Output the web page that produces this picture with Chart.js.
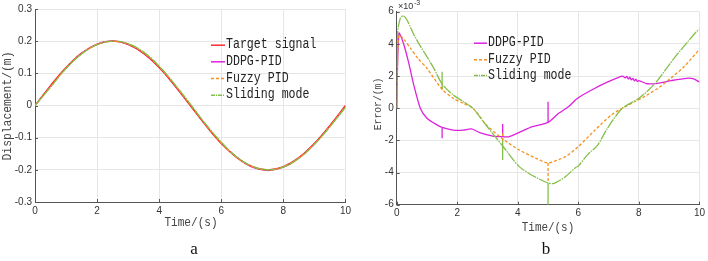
<!DOCTYPE html>
<html>
<head>
<meta charset="utf-8">
<script src="https://cdn.jsdelivr.net/npm/chart.js@4"></script>
<style>
  body { margin: 0; background: #fff; width: 708px; height: 261px; position: relative; overflow: hidden; }
  canvas { position: absolute; top: 0; }
  #chartA { left: 0; }
  #chartB { left: 354px; }
</style>
</head>
<body>
<canvas id="chartA" width="354" height="261"></canvas>
<canvas id="chartB" width="354" height="261"></canvas>
<script>
// ---- panel a: displacement ----
const timeA = [0, 0.5, 1, 1.5, 2, 2.5, 3, 3.5, 4, 4.5, 5, 5.5, 6, 6.5, 7, 7.5, 8, 8.5, 9, 9.5, 10];
const targetDisp  = [0, 0.062, 0.118, 0.162, 0.190, 0.200, 0.190, 0.162, 0.118, 0.062, 0, -0.062, -0.118, -0.162, -0.190, -0.200, -0.190, -0.162, -0.118, -0.062, 0];
const ddpgDisp    = [0, 0.060, 0.117, 0.163, 0.191, 0.201, 0.190, 0.162, 0.119, 0.062, 0.001, -0.061, -0.117, -0.161, -0.192, -0.202, -0.192, -0.163, -0.119, -0.063, -0.002];
const fuzzyDisp   = [0, 0.058, 0.116, 0.161, 0.190, 0.200, 0.191, 0.164, 0.121, 0.065, 0.003, -0.059, -0.116, -0.161, -0.190, -0.200, -0.191, -0.163, -0.120, -0.065, -0.004];
const slidingDisp = [0, 0.057, 0.115, 0.160, 0.189, 0.200, 0.192, 0.166, 0.122, 0.066, 0.005, -0.058, -0.114, -0.160, -0.189, -0.200, -0.191, -0.164, -0.121, -0.066, -0.006];

// ---- panel b: error (x1e-3 m) ----
const ddpgT = [0, 0.075, 0.24, 0.4, 0.565, 0.78, 1.0, 1.33, 1.5, 1.87, 2.2, 2.47, 2.74, 3.18, 3.5, 3.7, 4.05, 4.48, 5.0, 5.35, 5.68, 5.95, 6.44, 6.99, 7.45,
  7.55, 7.6, 7.65, 7.7, 7.75, 7.8, 7.85, 7.9, 7.95, 8.0, 8.27, 8.62, 9.05, 9.58, 9.81, 10];
const ddpgErr = [0, 4.66, 3.93, 2.79, 1.44, 0, -0.63, -1.04, -1.19, -1.36, -1.36, -1.29, -1.52, -1.73, -1.77, -1.78, -1.5, -1.15, -0.88, -0.32, 0.1, 0.59, 1.13, 1.65, 2.0,
  1.88, 1.98, 1.82, 1.93, 1.76, 1.86, 1.7, 1.8, 1.66, 1.72, 1.52, 1.55, 1.71, 1.86, 1.82, 1.62];
const fuzzyT = [0, 0.03, 0.08, 0.25, 0.46, 0.7, 1.0, 1.49, 1.87, 2.2, 2.52, 2.96, 3.53, 4.05, 4.59, 5.0, 5.57, 6.0, 6.55, 7.09, 7.48, 7.86, 8.18, 8.62, 9.05, 9.49, 10];
const fuzzyErr = [0, 3.0, 4.55, 4.25, 3.72, 3.1, 2.48, 1.2, 0.61, 0.3, 0, -1.04, -1.95, -2.6, -3.1, -3.4, -3.01, -2.39, -1.36, -0.42, 0.03, 0.4, 0.72, 1.23, 1.86, 2.58, 3.66];
const slidingT = [0, 0.03, 0.12, 0.22, 0.35, 0.56, 0.8, 1.0, 1.25, 1.5, 1.87, 2.2, 2.52, 2.85, 3.18, 3.5, 4.03, 4.5, 5.0, 5.2, 5.57, 5.9, 6.0, 6.3, 6.64, 6.96, 7.45, 8.0, 8.54, 9.0, 9.25, 9.6, 9.9, 10];
const slidingErr = [0, 4.7, 5.6, 5.75, 5.45, 4.6, 3.8, 3.2, 2.4, 1.5, 0.82, 0.41, 0, -0.8, -1.6, -2.35, -3.6, -4.2, -4.65, -4.67, -4.26, -3.7, -3.6, -2.9, -2.29, -1.25, 0, 0.61, 1.55, 2.7, 3.31, 4.1, 4.76, 4.9];
// vertical glitches: [time, from, to]
const ddpgSpikes = [[1.5, -1.19, -1.87], [3.5, -1.77, -0.98], [5.0, -0.88, 0.4]];
const fuzzySpikes = [[1.5, 1.15, 1.55], [3.5, -1.55, -2.1], [5.0, -3.4, -4.6]];
const slidingSpikes = [[1.5, 2.27, 1.2], [3.5, -2.0, -3.22], [5.0, -4.65, -6]];

const RED = '#ff2a2a', MAG = '#dd22dd', ORA = '#f7901e', GRN = '#84bf4a';
const MONO = '"Liberation Mono", monospace';

const xy = (ts, vs) => ts.map((t, i) => ({ x: t, y: vs[i] }));

const spikeSets = (spikes, color, dash) => spikes.map(s => ({
  label: '', data: [{ x: s[0], y: s[1] }, { x: s[0], y: s[2] }],
  borderColor: color, borderWidth: 1.3, borderDash: dash, pointRadius: 0, tension: 0
}));

// narrow monospace text (SimSun-like proportions)
const narrowText = (ctx, text, x, y, size, align) => {
  ctx.save();
  ctx.font = size + 'px ' + MONO;
  ctx.translate(x, y);
  ctx.scale(0.84, 1);
  ctx.textAlign = align;
  ctx.fillText(text, 0, 0);
  ctx.restore();
};

const textPlugin = (cfg) => ({
  id: 'texts',
  afterDraw(chart) {
    const ctx = chart.ctx;
    const xs = chart.scales.x, ys = chart.scales.y;
    ctx.save();
    // inward ticks
    ctx.strokeStyle = '#555';
    ctx.lineWidth = 1;
    ctx.beginPath();
    xs.ticks.forEach(t => {
      const px = Math.round(xs.getPixelForValue(t.value)) + 0.5;
      ctx.moveTo(px, chart.chartArea.bottom);
      ctx.lineTo(px, chart.chartArea.bottom - 3);
    });
    ys.ticks.forEach(t => {
      const py = Math.round(ys.getPixelForValue(t.value)) + 0.5;
      ctx.moveTo(chart.chartArea.left, py);
      ctx.lineTo(chart.chartArea.left + 3, py);
    });
    ctx.stroke();

    ctx.fillStyle = '#444';
    ctx.textBaseline = 'middle';
    narrowText(ctx, 'Time/(s)', cfg.xTitle[0], cfg.xTitle[1], cfg.xTitle[2], 'center');
    ctx.save();
    ctx.translate(cfg.yTitle[0], cfg.yTitle[1]);
    ctx.rotate(-Math.PI / 2);
    narrowText(ctx, cfg.yTitleText, 0, 0, cfg.yTitle[2], 'center');
    ctx.restore();

    ctx.fillStyle = '#111';
    ctx.textAlign = 'center';
    ctx.font = '17px "Liberation Serif", serif';
    ctx.fillText(cfg.sub, cfg.subPos[0], cfg.subPos[1]);

    if (cfg.exponent) {
      ctx.fillStyle = '#333';
      ctx.textAlign = 'left';
      ctx.font = '9px "Liberation Sans", sans-serif';
      ctx.fillText('\u00d710', cfg.exponent[0], cfg.exponent[1]);
      ctx.font = '7px "Liberation Sans", sans-serif';
      ctx.fillText('-3', cfg.exponent[0] + 16, cfg.exponent[1] - 4);
    }

    // legend
    cfg.legend.forEach((item, i) => {
      const y = cfg.legendY[i];
      ctx.strokeStyle = item.color;
      ctx.lineWidth = 1.5;
      ctx.setLineDash(item.dash || []);
      ctx.beginPath();
      ctx.moveTo(cfg.legendX[0], y + 0.5);
      ctx.lineTo(cfg.legendX[1], y + 0.5);
      ctx.stroke();
      ctx.setLineDash([]);
      ctx.fillStyle = '#222';
      narrowText(ctx, item.label, cfg.legendX[2], y, 13.8, 'left');
    });
    ctx.restore();
  }
});

const baseScales = (yMin, yMax, yStep, yWidth, xHeight) => ({
  x: {
    type: 'linear', min: 0, max: 10,
    ticks: { stepSize: 2, maxRotation: 0, padding: 3, color: '#333', font: { family: 'Liberation Sans', size: 10 } },
    grid: { color: '#e6e6e6', drawTicks: false },
    border: { color: '#555' },
    afterFit: s => { s.height = xHeight; }
  },
  y: {
    min: yMin, max: yMax,
    ticks: { stepSize: yStep, padding: 3, color: '#333', font: { family: 'Liberation Sans', size: 10 },
      callback: v => String(+v.toFixed(1)) },
    grid: { color: '#e6e6e6', drawTicks: false },
    border: { color: '#555' },
    afterFit: s => { s.width = yWidth; }
  }
});

const DASH_FUZZY = [3, 2];
const DASH_SLIDE = [10, 1, 1.5, 1];

new Chart(document.getElementById('chartA').getContext('2d'), {
  type: 'line',
  data: {
    datasets: [
      { label: 'Sliding mode', data: xy(timeA, slidingDisp), borderColor: GRN, borderDash: DASH_SLIDE },
      { label: 'Fuzzy PID', data: xy(timeA, fuzzyDisp), borderColor: ORA, borderDash: DASH_FUZZY },
      { label: 'Target signal', data: xy(timeA, targetDisp), borderColor: RED },
      { label: 'DDPG-PID', data: xy(timeA, ddpgDisp), borderColor: MAG },
    ].map(d => Object.assign({ borderWidth: 1.3, pointRadius: 0, tension: 0.4 }, d))
  },
  options: {
    responsive: false, animation: false,
    layout: { padding: { left: 0, top: 7, right: 5, bottom: 0 } },
    plugins: { legend: { display: false }, tooltip: { enabled: false } },
    scales: baseScales(-0.3, 0.3, 0.1, 35, 59)
  },
  plugins: [textPlugin({
    xTitle: [191, 223, 13.2], yTitle: [7, 106, 13.5], yTitleText: 'Displacement/(m)',
    sub: 'a', subPos: [194, 250],
    legendX: [211, 225, 226], legendY: [44.7, 61.3, 78, 94.7],
    legend: [
      { label: 'Target signal', color: RED },
      { label: 'DDPG-PID', color: MAG },
      { label: 'Fuzzy PID', color: ORA, dash: [3, 2] },
      { label: 'Sliding mode', color: GRN, dash: [4, 1, 1, 1] }
    ]
  })]
});

new Chart(document.getElementById('chartB').getContext('2d'), {
  type: 'line',
  data: {
    datasets: [
      { label: 'Sliding mode', data: xy(slidingT, slidingErr), borderColor: GRN, borderDash: DASH_SLIDE },
      { label: 'Fuzzy PID', data: xy(fuzzyT, fuzzyErr), borderColor: ORA, borderDash: DASH_FUZZY },
      { label: 'DDPG-PID', data: xy(ddpgT, ddpgErr), borderColor: MAG },
    ].map(d => Object.assign({ borderWidth: 1.3, pointRadius: 0, tension: 0.25 }, d))
      .concat(spikeSets(slidingSpikes, GRN, []), spikeSets(fuzzySpikes, ORA, DASH_FUZZY), spikeSets(ddpgSpikes, MAG, []))
  },
  options: {
    responsive: false, animation: false,
    layout: { padding: { left: 0, top: 11.7, right: 5, bottom: 0 } },
    plugins: { legend: { display: false }, tooltip: { enabled: false } },
    scales: baseScales(-6, 6, 2, 42.7, 56.3)
  },
  plugins: [textPlugin({
    xTitle: [194, 227.5, 13], yTitle: [23.5, 104, 11.6], yTitleText: 'Error/(m)',
    sub: 'b', subPos: [192, 250], exponent: [44, 7],
    legendX: [120, 133, 134], legendY: [42.7, 59.3, 75],
    legend: [
      { label: 'DDPG-PID', color: MAG },
      { label: 'Fuzzy PID', color: ORA, dash: [3, 2] },
      { label: 'Sliding mode', color: GRN, dash: [4, 1, 1, 1] }
    ]
  })]
});
</script>
</body>
</html>
